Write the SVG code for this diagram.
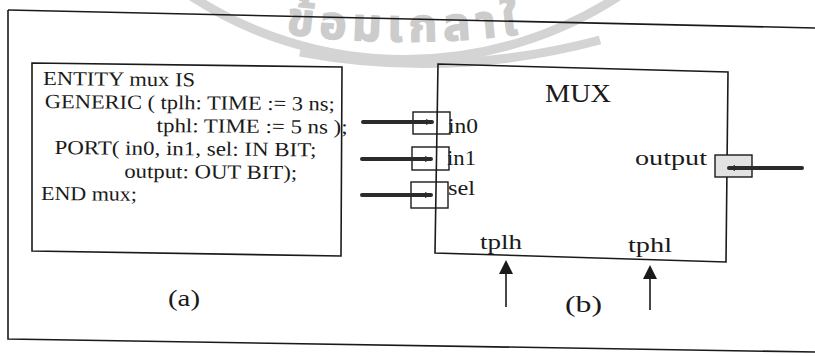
<svg xmlns="http://www.w3.org/2000/svg" width="815" height="356" viewBox="0 0 815 356">
<style>
  .t{font-family:"Liberation Serif","Times New Roman",serif;fill:#1a1a1a}
  .code{font-size:20px}
  .ln{fill:none;stroke:#1a1a1a;stroke-width:1.6}
  .port{fill:none;stroke:#1a1a1a;stroke-width:1.4}
  .thick{stroke:#2b2b2b;stroke-width:4;stroke-linecap:round;fill:none}
  .thin{stroke:#1a1a1a;stroke-width:1.6;fill:none}
  .wm{fill:none;stroke:#d4d4d4;stroke-width:9}
  .wmt{font-family:"Noto Sans Thai","Noto Sans","DejaVu Sans",sans-serif;font-size:46px;font-weight:bold;fill:#cccccc;stroke:#cccccc;stroke-width:1.5;letter-spacing:6px}
</style>
<defs>
  <marker id="ah" markerWidth="7" markerHeight="7" refX="6" refY="3.5" orient="auto" markerUnits="userSpaceOnUse">
    <path d="M0,0.5 L7,3.5 L0,6.5 z" fill="#2b2b2b"/>
  </marker>
  <path id="wmpath" d="M200,18 A900,900 0 0,0 610,18"/>
</defs>
<rect width="815" height="356" fill="#ffffff"/>

<g id="watermark">
  <path class="wm" d="M185,-8 A392,392 0 0,0 625,-8"/>
  <path class="wm" d="M300,52 Q450,80 600,40"/>
  <text class="wmt"><textPath href="#wmpath" startOffset="50%" text-anchor="middle">ข้อมเกลาใ</textPath></text>
</g>

<g id="frame">
  <path class="ln" d="M8,10 L815,28"/>
  <path class="ln" d="M8,10 L8,339 L815,352"/>
</g>

<g id="entity-code">
  <polygon class="ln" points="32,63 342,67 341,256 32,251"/>
  <g transform="rotate(0.5 43 85)">
    <text class="t code" x="43" y="85" textLength="152" lengthAdjust="spacingAndGlyphs">ENTITY mux IS</text>
    <text class="t code" x="45" y="108" textLength="290" lengthAdjust="spacingAndGlyphs">GENERIC ( tplh: TIME := 3 ns;</text>
    <text class="t code" x="157" y="131" textLength="191" lengthAdjust="spacingAndGlyphs">tphl: TIME := 5 ns );</text>
    <text class="t code" x="55" y="154" textLength="262" lengthAdjust="spacingAndGlyphs">PORT( in0, in1, sel: IN BIT;</text>
    <text class="t code" x="125" y="177" textLength="173" lengthAdjust="spacingAndGlyphs">output: OUT BIT);</text>
    <text class="t code" x="42" y="200" textLength="96" lengthAdjust="spacingAndGlyphs">END mux;</text>
  </g>
</g>
<g id="label-a">
  <text class="t" x="168" y="306" font-size="24" textLength="32" lengthAdjust="spacingAndGlyphs">(a)</text>
</g>

<g id="mux">
  <polygon class="ln" points="438,64 728,72 726,262 435,253"/>
  <text class="t" x="545" y="102" font-size="25" textLength="66" lengthAdjust="spacingAndGlyphs">MUX</text>
</g>
<g id="port-in0">
  <rect class="port" x="413" y="112" width="37" height="22"/>
  <text class="t" x="448" y="133" font-size="21" textLength="30" lengthAdjust="spacingAndGlyphs">in0</text>
</g>
<g id="port-in1">
  <rect class="port" x="412" y="147" width="37" height="23"/>
  <text class="t" x="447" y="165" font-size="21" textLength="29" lengthAdjust="spacingAndGlyphs">in1</text>
</g>
<g id="port-sel">
  <rect class="port" x="411" y="182" width="37" height="26"/>
  <text class="t" x="448" y="195" font-size="21" textLength="27" lengthAdjust="spacingAndGlyphs">sel</text>
</g>
<g id="port-output">
  <rect x="715" y="155" width="37" height="22" fill="#e2e2e2" stroke="#1a1a1a" stroke-width="1.4"/>
  <text class="t" x="635" y="165" font-size="20" textLength="72" lengthAdjust="spacingAndGlyphs">output</text>
</g>
<g id="generic-tplh">
  <text class="t" x="480" y="249" font-size="22" textLength="42" lengthAdjust="spacingAndGlyphs">tplh</text>
</g>
<g id="generic-tphl">
  <text class="t" x="628" y="252" font-size="22" textLength="44" lengthAdjust="spacingAndGlyphs">tphl</text>
</g>
<g id="label-b">
  <text class="t" x="565" y="312" font-size="24" textLength="37" lengthAdjust="spacingAndGlyphs">(b)</text>
</g>

<g id="connectors">
  <path class="thick" d="M363,122 L432,122" marker-end="url(#ah)"/>
  <path class="thick" d="M362,159 L431,159" marker-end="url(#ah)"/>
  <path class="thick" d="M362,195 L431,195" marker-end="url(#ah)"/>
  <path class="thick" d="M802,168 L729,168" marker-end="url(#ah)"/>
  <path class="thin" d="M506,307 L506,272"/>
  <polygon points="506,260 499,274 513,274" fill="#1a1a1a"/>
  <path class="thin" d="M650,310 L650,277"/>
  <polygon points="650,265 643,279 657,279" fill="#1a1a1a"/>
</g>
</svg>
